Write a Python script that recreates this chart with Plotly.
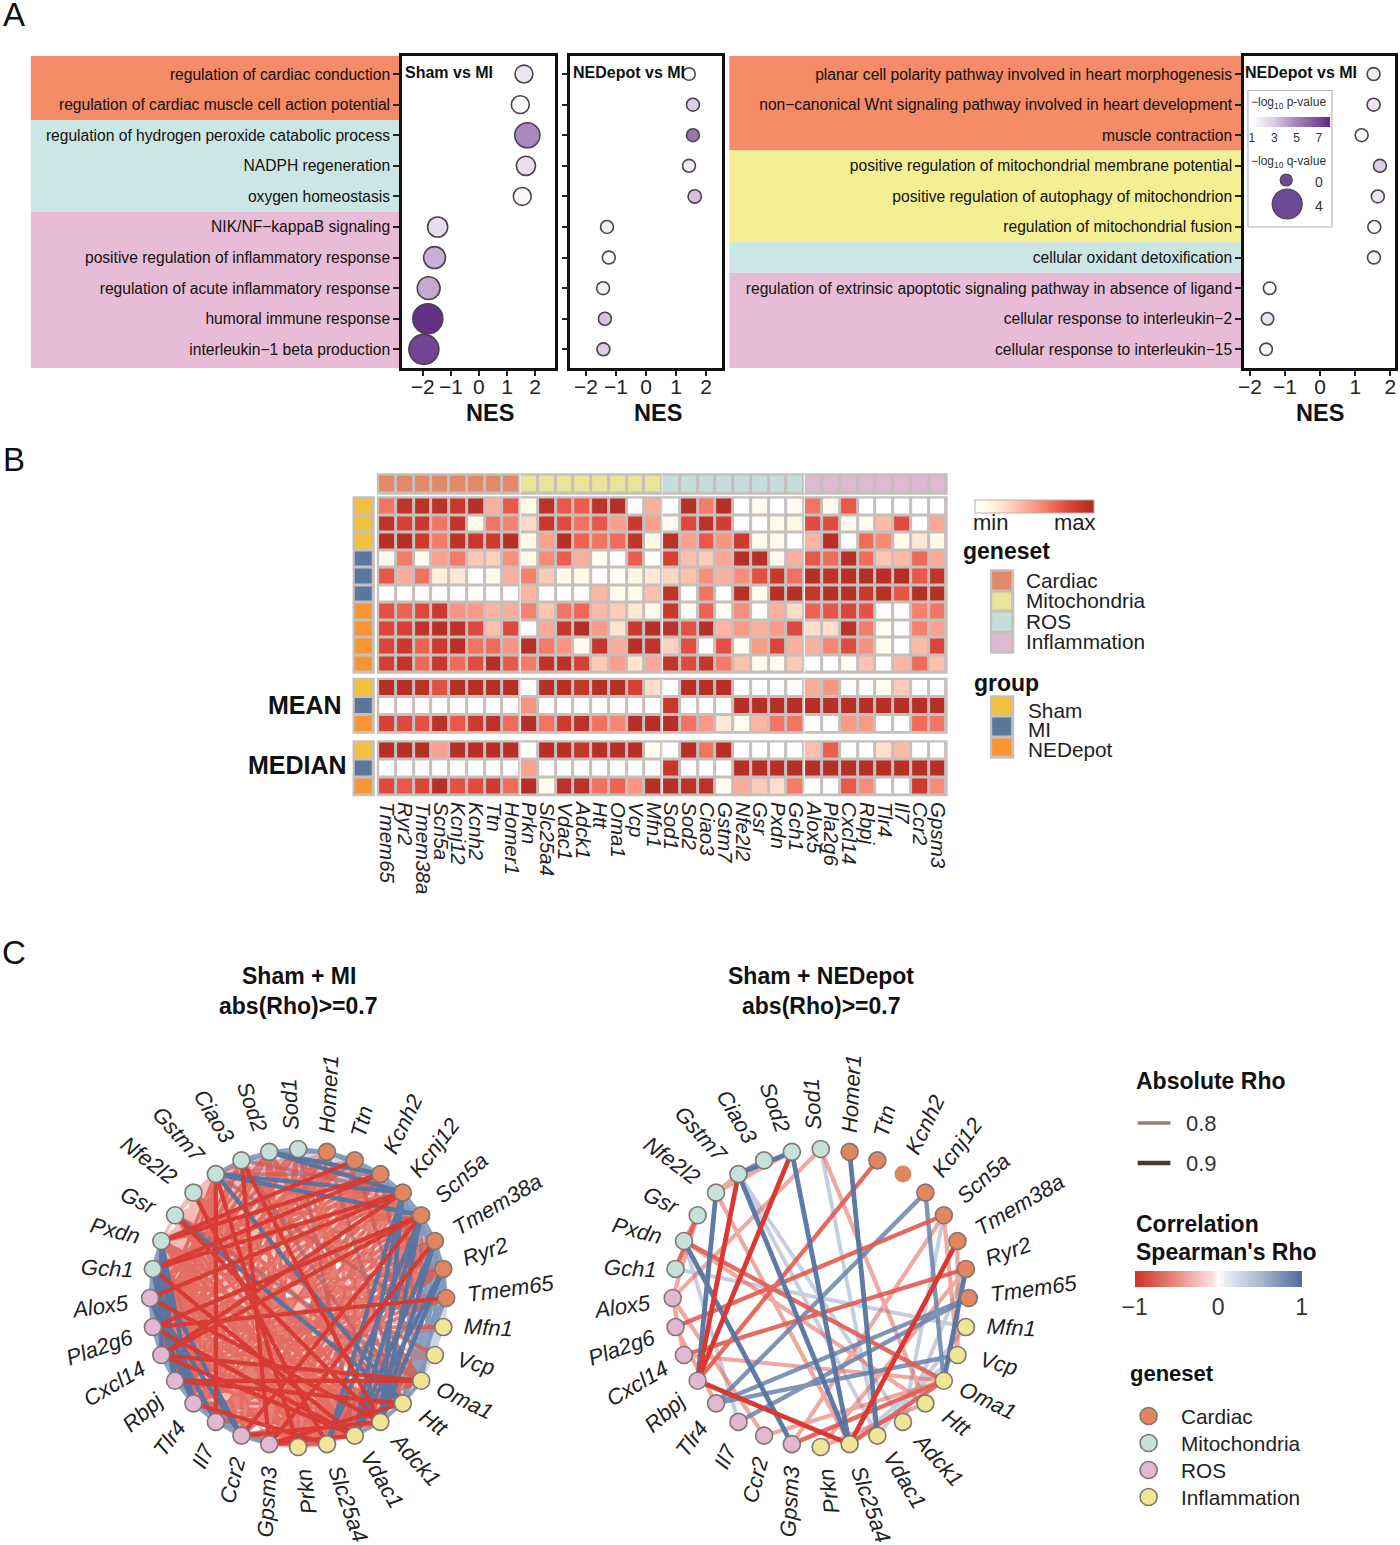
import math
import plotly.graph_objects as go

W, H = 1400, 1545
FONT = "Liberation Sans"

# ---------- Panel A data ----------
labels_a1 = ["regulation of cardiac conduction", "regulation of cardiac muscle cell action potential",
             "regulation of hydrogen peroxide catabolic process", "NADPH regeneration", "oxygen homeostasis",
             "NIK/NF−kappaB signaling", "positive regulation of inflammatory response",
             "regulation of acute inflammatory response", "humoral immune response", "interleukin−1 beta production"]
labels_a3 = ["planar cell polarity pathway involved in heart morphogenesis",
             "non−canonical Wnt signaling pathway involved in heart development", "muscle contraction",
             "positive regulation of mitochondrial membrane potential",
             "positive regulation of autophagy of mitochondrion", "regulation of mitochondrial fusion",
             "cellular oxidant detoxification",
             "regulation of extrinsic apoptotic signaling pathway in absence of ligand",
             "cellular response to interleukin−2", "cellular response to interleukin−15"]
nes_sham = [1.60, 1.47, 1.72, 1.67, 1.54, -1.47, -1.58, -1.79, -1.82, -1.96]
nes_ned1 = [1.43, 1.56, 1.56, 1.43, 1.62, -1.30, -1.24, -1.43, -1.37, -1.42]
nes_ned2 = [1.52, 1.52, 1.18, 1.70, 1.64, 1.54, 1.53, -1.44, -1.50, -1.54]
p_sham = [2.0, 1.1, 4.8, 2.2, 1.3, 2.3, 3.7, 3.9, 7.8, 7.2]
p_ned1 = [1.2, 2.8, 5.5, 1.8, 3.2, 1.6, 1.1, 1.6, 3.2, 2.9]
p_ned2 = [1.7, 1.9, 1.1, 2.8, 2.0, 1.2, 1.2, 1.1, 2.0, 1.4]
q_sham = [1.3, 1.3, 2.9, 1.6, 1.3, 1.8, 2.2, 2.4, 4.0, 4.0]
q_ned1 = [0.1, 0.2, 0.2, 0.2, 0.3, 0.2, 0.2, 0.2, 0.2, 0.2]
q_ned2 = [0.2, 0.2, 0.2, 0.2, 0.2, 0.2, 0.2, 0.1, 0.1, 0.1]
bands_a1 = [(-0.59, 1.5, "#F58B67"), (1.5, 4.5, "#CBE6E4"), (4.5, 9.61, "#E8BCD6")]
bands_a3 = [(-0.59, 2.5, "#F58B67"), (2.5, 5.5, "#F4EF93"), (5.5, 6.5, "#CBE6E4"), (6.5, 9.61, "#E8BCD6")]

# ---------- Panel B data ----------
genes_heat = ["Tmem65", "Ryr2", "Tmem38a", "Scn5a", "Kcnj12", "Kcnh2", "Ttn", "Homer1",
              "Prkn", "Slc25a4", "Vdac1", "Adck1", "Htt", "Oma1", "Vcp", "Mfn1",
              "Sod1", "Sod2", "Ciao3", "Gstm7", "Nfe2l2", "Gsr", "Pxdn", "Gch1",
              "Alox5", "Pla2g6", "Cxcl14", "Rbpj", "Tlr4", "Il7", "Ccr2", "Gpsm3"]
gene_group = [0] * 8 + [1] * 8 + [2] * 8 + [3] * 8
sample_group = [0, 0, 0, 1, 1, 1, 2, 2, 2, 2]
summary_group = [0, 1, 2]
heat_main = [
    [.62, .92, .95, .95, .88, .97, .42, .72, .10, .95, .72, .70, .95, .98, 0, .42, 0, .98, .60, .98, 0, .08, 0, .07, .62, .07, .72, 0, 0, 0, 0, 0],
    [.93, .82, .87, .62, .92, .10, .62, .58, .27, .88, .77, .63, .72, .48, .87, .48, .07, .78, .95, .83, 0, 0, .10, .12, .77, .77, .07, .08, .38, .77, 0, .45],
    [.97, .98, .85, .60, .94, .88, .85, .97, .10, .47, .97, .68, .62, .65, .93, .10, .95, .47, .72, .52, .85, .07, .10, 0, .40, .97, 0, .65, .55, .10, .20, .10],
    [.07, .60, .06, .47, .60, .33, .30, .53, .10, .55, .70, .42, .05, 0, .70, 0, .82, .36, .32, .45, .97, .97, .08, .42, .72, .65, .97, .65, .34, .38, .66, .44],
    [.72, .43, .63, .17, .20, 0, .10, .42, .58, .32, .10, .10, 0, .05, .12, .20, .28, .36, .53, .42, .54, .75, .88, .63, .97, .93, .96, .99, .97, .99, .72, .91],
    [0, 0, 0, 0, 0, .03, 0, .02, .40, 0, 0, 0, .40, .10, .10, .36, .93, 0, .62, 0, .96, .08, .97, .97, .90, .97, .97, .88, .96, .73, .98, .97],
    [.75, .68, .78, .87, .52, .50, .40, .43, .58, .34, .62, .67, .38, .32, .20, .07, .88, .03, .68, .06, .54, .02, .42, .26, .68, .73, .80, .74, 0, 0, .58, .62],
    [.80, .82, .92, .97, .95, .78, .36, .78, 0, .44, .90, .98, .50, .22, .87, .97, .94, .75, .97, .40, .50, .42, .50, .78, .25, .24, .95, .60, .07, 0, .58, .47],
    [.80, .87, .68, .85, .96, .62, .65, .52, .96, .60, .52, .07, .90, .43, .97, .93, .30, .76, 0, .75, .05, .50, .80, .42, .42, .56, .77, .53, .09, 0, .38, .80],
    [.83, .92, .66, .88, .65, .76, .98, .72, .60, .93, .95, .82, .33, .48, .22, .45, .92, .78, .90, .60, .36, .09, .08, .33, 0, 0, .05, .35, 0, .40, .65, .36],
]
heat_mean = [
    [.97, .97, .95, .75, .97, .97, .97, .97, 0, .97, .97, .90, .97, .97, .82, .25, 0, .97, .97, .97, 0, 0, 0, 0, .43, .52, 0, 0, .07, .32, 0, 0],
    [0, 0, 0, 0, 0, 0, 0, 0, .52, 0, 0, 0, 0, 0, 0, 0, .88, 0, 0, 0, .97, .97, .97, .97, .97, .97, .97, .97, .97, .97, .97, .97],
    [.82, .78, .75, .95, .72, .85, .95, .65, .97, .62, .85, .95, .63, .56, .97, .97, .97, .63, .50, .20, .08, .40, .62, .62, 0, 0, .50, .50, 0, 0, .65, .62],
]
heat_median = [
    [.97, .97, .97, .47, .97, .97, .97, .97, 0, .97, .97, .90, .97, .97, .97, .08, 0, .97, .62, .97, 0, 0, 0, 0, .36, .70, 0, 0, .25, .38, 0, 0],
    [0, 0, 0, 0, 0, 0, 0, 0, .47, 0, 0, 0, 0, 0, 0, 0, .90, 0, 0, 0, .97, .97, .97, .97, .97, .97, .97, .97, .97, .97, .97, .97],
    [.78, .72, .80, .97, .75, .77, .85, .65, .97, .08, .95, .95, .63, .68, .52, .97, .97, .95, .95, .06, .43, .32, .25, .60, 0, 0, .72, .55, 0, 0, .85, .55],
]
geneset_names = ["Cardiac", "Mitochondria", "ROS", "Inflammation"]
group_names = ["Sham", "MI", "NEDepot"]
geneset_colors = ["#E08A68", "#EAE39A", "#C4DEDC", "#DDB9D2"]
group_colors = ["#F2C23D", "#5B779F", "#F79533"]
heat_scale = [[0, "#FFFFFF"], [.1, "#FFFBE8"], [.25, "#FFDFCB"], [.4, "#FBB5A2"], [.5, "#F99A87"],
              [.6, "#F37B68"], [.72, "#E9574A"], [.85, "#CF3A2E"], [1, "#B02E25"]]

# ---------- Panel C data ----------
ring_genes = ["Sod1", "Homer1", "Ttn", "Kcnh2", "Kcnj12", "Scn5a", "Tmem38a", "Ryr2", "Tmem65",
              "Mfn1", "Vcp", "Oma1", "Htt", "Adck1", "Vdac1", "Slc25a4", "Prkn",
              "Gpsm3", "Ccr2", "Il7", "Tlr4", "Rbpj", "Cxcl14", "Pla2g6", "Alox5",
              "Gch1", "Pxdn", "Gsr", "Nfe2l2", "Gstm7", "Ciao3", "Sod2"]
ring_set = [1, 0, 0, 0, 0, 0, 0, 0, 0, 3, 3, 3, 3, 3, 3, 3, 3, 2, 2, 2, 2, 2, 2, 2, 2, 1, 1, 1, 1, 1, 1, 1]
net_colors = ["#E08660", "#C6E0DC", "#E0B8D2", "#EFE595"]
net_names = ["Cardiac", "Mitochondria", "ROS", "Inflammation"]

left_pale_blue = [(9, 5), (9, 6), (9, 4), (10, 5), (10, 6), (10, 7), (10, 4), (9, 3), (11, 8), (11, 7), (9, 11), (9, 12),
                  (10, 12), (10, 13), (8, 10), (7, 9), (8, 11), (6, 10), (0, 2), (0, 3), (1, 4), (31, 2), (30, 2), (30, 1),
                  (25, 19), (26, 19), (24, 21), (23, 19), (22, 18), (21, 17), (20, 17), (19, 17), (16, 18), (15, 17), (14, 16),
                  (13, 15), (12, 14), (30, 3), (29, 2), (31, 5), (9, 7), (9, 8), (10, 8), (11, 9), (12, 10), (8, 9)]
left_mid_blue = [(1, 3), (2, 4), (3, 5), (4, 6), (5, 7), (6, 8), (5, 8), (4, 7), (3, 6), (2, 5), (1, 2), (2, 3), (3, 4),
                 (4, 5), (5, 6), (6, 7), (7, 8), (25, 24), (24, 23), (23, 22), (22, 21), (21, 20), (20, 19), (19, 18),
                 (18, 17), (25, 23), (24, 22), (23, 21), (22, 20), (21, 19), (20, 18), (25, 26), (24, 26), (31, 0), (0, 1),
                 (31, 1), (30, 31), (29, 31), (29, 3), (30, 4), (29, 30), (7, 11), (7, 12), (8, 12), (6, 11), (5, 11), (4, 11),
                 (8, 13), (6, 12), (27, 11), (29, 9), (30, 12), (0, 14), (1, 12), (3, 11), (2, 11), (25, 22), (24, 21),
                 (23, 20), (22, 19), (21, 18), (20, 17), (26, 24), (26, 23), (13, 12), (12, 11), (14, 13), (8, 14), (7, 15)]
left_strong_blue = [(4, 15), (5, 14), (5, 15), (6, 14), (4, 14), (6, 13), (7, 13), (5, 13), (7, 14), (4, 13), (31, 3),
                    (31, 4), (29, 4), (29, 5), (29, 12), (25, 20), (25, 21), (24, 19), (24, 20), (26, 21), (26, 20),
                    (25, 18), (24, 18), (26, 22), (27, 12)]
left_pale_red = [(29, 24), (29, 25), (30, 24), (30, 25), (31, 25), (31, 26), (0, 25), (0, 26), (28, 20), (28, 21), (28, 22),
                 (27, 19), (27, 18), (26, 17), (31, 19), (31, 20), (31, 21), (0, 19), (0, 20), (0, 21), (30, 18), (30, 19),
                 (30, 20), (30, 21), (1, 17), (1, 18), (1, 19), (1, 20), (2, 17), (2, 18), (2, 19), (2, 20), (2, 21), (2, 22),
                 (3, 16), (3, 17), (3, 18), (1, 24), (1, 25), (1, 26), (1, 27), (2, 26), (2, 27), (2, 28), (3, 27), (3, 28),
                 (4, 28), (4, 27), (5, 26), (5, 27), (6, 26), (6, 27), (7, 26), (7, 27), (6, 24), (7, 24), (8, 24), (8, 25),
                 (11, 24), (11, 25), (12, 25), (12, 26), (13, 25), (13, 26), (14, 26), (14, 27), (15, 26), (15, 27), (16, 27),
                 (16, 28), (9, 24), (10, 24), (10, 22), (10, 20), (9, 22), (9, 21), (31, 14), (31, 15), (0, 15), (0, 16),
                 (30, 14), (30, 15), (30, 16), (29, 14), (28, 15), (28, 16), (27, 16), (1, 15), (2, 14), (3, 14),
                 (28, 29), (27, 28), (26, 27), (28, 30), (27, 29), (16, 17), (15, 16), (15, 18), (14, 17), (14, 18), (13, 16)]
left_mid_red = [(29, 20), (29, 21), (29, 22), (29, 23), (30, 22), (30, 23), (31, 22), (31, 23), (31, 24), (0, 22), (0, 23), (0, 24),
                (27, 14), (27, 15), (26, 14), (26, 15), (26, 13), (25, 13), (25, 15), (25, 16), (24, 14), (24, 15), (23, 15),
                (23, 13), (23, 12), (22, 13), (22, 12), (21, 13), (21, 15), (20, 12), (20, 13), (20, 14), (19, 11), (19, 13),
                (18, 12), (18, 14), (17, 11), (17, 13), (17, 15), (1, 21), (1, 22), (1, 23), (2, 23), (2, 24), (2, 25), (3, 19),
                (3, 20), (3, 21), (3, 22), (3, 23), (3, 24), (4, 17), (4, 18), (4, 19), (4, 20), (4, 21), (4, 23), (4, 26),
                (5, 17), (5, 19), (5, 20), (5, 21), (5, 23), (5, 25), (6, 18), (6, 19), (6, 20), (6, 21), (6, 22), (6, 23),
                (7, 18), (7, 19), (7, 20), (7, 21), (7, 22), (7, 23), (8, 20), (8, 21), (8, 22), (9, 23), (11, 26), (12, 28), (13, 28),
                (31, 16), (31, 17), (31, 18), (0, 17), (0, 18), (30, 11), (31, 11), (31, 12), (0, 12), (0, 13), (28, 12), (28, 11),
                (27, 10), (2, 16), (1, 16), (16, 5), (16, 6), (15, 3), (15, 2), (26, 11), (28, 14), (16, 26)]
left_strong_red = [(4, 25), (4, 24), (3, 26), (5, 22), (5, 18), (6, 17), (29, 16), (29, 19), (30, 17), (22, 11), (21, 12),
                   (21, 11), (24, 13), (25, 14), (27, 13), (23, 14), (22, 14), (20, 15), (18, 13), (17, 14), (17, 12),
                   (8, 23), (3, 25), (28, 15), (4, 22), (2, 26), (5, 23), (30, 13)]

right_strong_red = [(31, 21), (29, 21), (21, 15), (6, 15)]
right_mid_red = [(2, 21), (5, 23), (11, 17), (11, 15), (26, 11), (7, 22), (27, 25)]
right_light_red = [(22, 11), (26, 12), (0, 24), (28, 29), (28, 31), (28, 15), (0, 12), (5, 17), (5, 10), (6, 10), (7, 16),
                   (27, 24), (24, 18), (18, 11), (12, 16), (23, 20), (27, 26), (24, 22)]
right_strong_blue = [(1, 14), (31, 15), (29, 15), (28, 21), (26, 17), (7, 11), (29, 31)]
right_mid_blue = [(4, 20), (4, 11), (30, 29), (8, 20), (10, 20), (29, 30), (8, 19)]
right_pale_blue = [(0, 14), (29, 14), (25, 9), (5, 13), (9, 14), (7, 13), (10, 15), (26, 19), (29, 13)]
right_no_edge = ["Kcnh2"]

size_legend_q = [0, 4]
rho_legend = [0.8, 0.9]
rho_scale = [[0, "#D32F2A"], [.25, "#E88B84"], [.47, "#FFE3DF"], [.5, "#FFFFFF"], [.53, "#EEF1F6"], [.75, "#A8B8D0"], [1, "#4C6C9C"]]
edge_scale = [[0, "#D5302A"], [.25, "#F08A78"], [.47, "#FFE3DA"], [.5, "#FFFFFF"], [.53, "#EEF1F6"], [.75, "#A8B8D0"], [1, "#4C6C9C"]]

# ---------- helpers ----------
fig = go.Figure()
layout = {}
ann = []
shapes = []
axis_n = [0]


def txt(x, y, text, size=20, bold=False, anchor="left", color="#222222", angle=0):
    ann.append(dict(xref="paper", yref="paper", x=x / W, y=1 - y / H, text=f"<b>{text}</b>" if bold else text,
                    showarrow=False, xanchor=anchor, yanchor="middle", textangle=angle,
                    font=dict(size=size, family=FONT, color=color)))


def new_axes(x0, x1, y0, y1, xkw=None, ykw=None):
    axis_n[0] += 1
    n = axis_n[0]
    sx = "" if n == 1 else str(n)
    xa = dict(domain=[x0 / W, x1 / W], anchor=f"y{sx}", fixedrange=True, showgrid=False, zeroline=False, visible=False)
    ya = dict(domain=[1 - y1 / H, 1 - y0 / H], anchor=f"x{sx}", fixedrange=True, showgrid=False, zeroline=False, visible=False)
    xa.update(xkw or {})
    ya.update(ykw or {})
    layout[f"xaxis{sx}"] = xa
    layout[f"yaxis{sx}"] = ya
    return f"x{sx}", f"y{sx}"


# ---------- Panel A ----------
def dot_panel(x0, x1, xr, nes, p, q, labels, title, title_x, nes_x, bands=None, band_x0=None):
    ykw = dict(visible=True, range=[9.61, -0.59], tickvals=list(range(10)),
               ticks="outside", ticklen=6, tickwidth=2, tickcolor="#222", showline=True, linecolor="#111",
               linewidth=2.5, mirror=True)
    if labels:
        ykw.update(ticktext=labels, tickfont=dict(size=15.6, family=FONT, color="#111"))
    else:
        ykw.update(showticklabels=False)
    xa, ya = new_axes(x0, x1, 56, 368,
                      dict(visible=True, range=xr, tickvals=[-2, -1, 0, 1, 2], ticktext=["−2", "−1", "0", "1", "2"],
                           ticks="outside", ticklen=5, tickwidth=2, tickcolor="#222", showline=True, linecolor="#111",
                           linewidth=2.5, mirror=True, ticklabelstandoff=-7, tickfont=dict(size=21, family=FONT, color="#222")),
                      ykw)
    if bands:
        for b0, b1, c in bands:
            shapes.append(dict(type="rect", xref="paper", yref=ya, x0=band_x0 / W, x1=x0 / W, y0=b0, y1=b1,
                               fillcolor=c, line=dict(width=0), layer="below"))
    fig.add_trace(go.Scatter(x=nes, y=list(range(10)), xaxis=xa, yaxis=ya, mode="markers", showlegend=False,
                             marker=dict(size=[12 + 4.5 * v for v in q], color=p, coloraxis="coloraxis2",
                                         line=dict(color="#4A4348", width=1.6), opacity=1)))
    txt(title_x, 72, title, size=16, bold=True, color="#111")
    txt(nes_x, 413, "NES", size=23.5, bold=True, anchor="center", color="#111")


dot_panel(398.5, 553, [-2.74, 2.72], nes_sham, p_sham, q_sham, labels_a1, "Sham vs MI", 399.5, 487, bands_a1, 25)
dot_panel(568, 721, [-2.52, 2.54], nes_ned1, p_ned1, q_ned1, None, "NEDepot vs MI", 569, 656)
dot_panel(1246, 1398, [-2.17, 2.13], nes_ned2, p_ned2, q_ned2, labels_a3, "NEDepot vs MI", 1245.5, 1323, bands_a3, 728)

layout["coloraxis2"] = dict(cmin=1, cmax=8,
                            colorscale=[[0, "#FFFFFF"], [.28, "#DCCBE4"], [.57, "#A582BA"], [.86, "#784A98"], [1, "#5E2A7E"]],
                            colorbar=dict(orientation="h", thickness=10, lenmode="pixels", len=78, x=1254 / W, xanchor="left",
                                          y=1 - 117 / H, yanchor="top", xpad=0, ypad=0, outlinewidth=0, ticklen=0,
                                          tickvals=[1, 3, 5, 7], tickfont=dict(size=12, family=FONT, color="#333")))


# ---------- Panel B ----------
def gap_bg(xa, ya):
    shapes.append(dict(type="rect", xref=f"{xa} domain", yref=f"{ya} domain", x0=0, x1=1, y0=0, y1=1,
                       fillcolor="#C6BFBC", line=dict(color="#C6BFBC", width=2.5), layer="below"))


def seps(xa, ya):
    for s in (7.5, 15.5, 23.5):
        shapes.append(dict(type="line", xref=xa, yref=f"{ya} domain", x0=s, x1=s, y0=0, y1=1,
                           line=dict(color="#F4F2F1", width=1.2), layer="above"))


def discrete_scale(colors):
    return [[i / (len(colors) - 1), c] for i, c in enumerate(colors)]


HEAT_L, HEAT_R = 374.5, 946.5


def value_heat(z, y0, y1, xkw=None):
    xa, ya = new_axes(HEAT_L, HEAT_R, y0, y1, xkw or dict(range=[-0.5, 31.5]), dict(range=[len(z) - .5, -.5]))
    gap_bg(xa, ya)
    fig.add_trace(go.Heatmap(z=z, xaxis=xa, yaxis=ya, coloraxis="coloraxis", xgap=3, ygap=3, hoverinfo="skip"))
    seps(xa, ya)


def side_heat(groups, x0, x1, y0, y1, colors, vertical=True):
    z = [[g] for g in groups] if vertical else [groups]
    rows = len(z)
    cols = len(z[0])
    xa, ya = new_axes(x0, x1, y0, y1, dict(range=[-.5, cols - .5]), dict(range=[rows - .5, -.5]))
    gap_bg(xa, ya)
    fig.add_trace(go.Heatmap(z=z, xaxis=xa, yaxis=ya, colorscale=discrete_scale(colors), zmin=0, zmax=len(colors) - 1,
                             showscale=False, xgap=3, ygap=3, hoverinfo="skip"))
    return xa, ya


xa_top, ya_top = side_heat(gene_group, HEAT_L, HEAT_R, 474.5, 493.5, geneset_colors, vertical=False)
seps(xa_top, ya_top)
side_heat(sample_group, 350, 370, 497.5, 672.5, group_colors)
value_heat(heat_main, 497.5, 672.5)
side_heat(summary_group, 350, 370, 679, 732.5, group_colors)
value_heat(heat_mean, 679, 732.5)
side_heat(summary_group, 350, 370, 741.5, 795, group_colors)
value_heat(heat_median, 741.5, 795,
           dict(visible=True, range=[-0.5, 31.5], tickvals=list(range(32)), ticktext=genes_heat, tickangle=90,
                ticks="outside", ticklen=2, tickcolor="rgba(0,0,0,0)", showline=False,
                tickfont=dict(size=20.5, family=FONT, style="italic", color="#222")))

side_heat([0, 1, 2, 3], 991.5, 1013.5, 570.5, 652.5, geneset_colors)
side_heat([0, 1, 2], 991.5, 1013.5, 696.5, 757.5, group_colors)
layout["coloraxis"] = dict(cmin=0, cmax=1, colorscale=heat_scale,
                           colorbar=dict(orientation="h", thickness=13, lenmode="pixels", len=119, x=975 / W, xanchor="left",
                                         y=1 - 500 / H, yanchor="top", xpad=0, ypad=0, outlinecolor="#B8B0AC", outlinewidth=1,
                                         ticklen=0, showticklabels=False))
txt(991, 522, "min", size=22, anchor="center")
txt(1076, 522, "max", size=22, anchor="center")
txt(261.5, 705, "MEAN", size=25, bold=True, color="#111")
txt(242, 765, "MEDIAN", size=25, bold=True, color="#111")
txt(961, 551, "geneset", size=23, bold=True, color="#111")
txt(972, 683, "group", size=23, bold=True, color="#111")
for name, yy in zip(geneset_names, [580, 601, 621, 642]):
    txt(1025, yy, name, size=20.8)
for name, yy in zip(group_names, [710, 730, 749]):
    txt(1027, yy, name, size=20.8)

# ---------- Panel C ----------
xpage, ypage = new_axes(0, W, 0, H, dict(range=[0, W]), dict(range=[H, 0]))
RADIUS = 149


def ring_xy(cx, cy, i, r=RADIUS):
    th = math.radians(i * 360 / 32)
    return cx + r * math.sin(th), cy - r * math.cos(th)


def rho_color(rho):
    t = (rho + 1) / 2
    for (a, ca), (b, cb) in zip(edge_scale[:-1], edge_scale[1:]):
        if a <= t <= b:
            f = (t - a) / (b - a)
            rgb = [round(int(ca[k:k + 2], 16) * (1 - f) + int(cb[k:k + 2], 16) * f) for k in (1, 3, 5)]
            return f"rgb({rgb[0]},{rgb[1]},{rgb[2]})"


def edges(cx, cy, pairs, rho, width, opacity):
    xs, ys = [], []
    for a, b in pairs:
        xa_, ya_ = ring_xy(cx, cy, a)
        xb_, yb_ = ring_xy(cx, cy, b)
        xs += [xa_, xb_, None]
        ys += [ya_, yb_, None]
    fig.add_trace(go.Scatter(x=xs, y=ys, xaxis=xpage, yaxis=ypage, mode="lines", showlegend=False, opacity=opacity,
                             line=dict(color=rho_color(rho), width=width), hoverinfo="skip"))


def char_w(c):
    if c in "ilt1fjrI":
        return .31
    if c in "mM":
        return .83
    return .56


def ring(cx, cy, no_edge=()):
    pts = [ring_xy(cx, cy, i) for i in range(32)]
    fig.add_trace(go.Scatter(x=[p[0] for p in pts], y=[p[1] for p in pts], xaxis=xpage, yaxis=ypage, mode="markers",
                             showlegend=False, hoverinfo="skip",
                             marker=dict(size=17, color=[net_colors[s] for s in ring_set],
                                         line=dict(width=1.6, color=["rgba(0,0,0,0)" if g in no_edge else "#7F7672" for g in ring_genes]))))
    for i, g in enumerate(ring_genes):
        theta = i * 360 / 32
        w = sum(char_w(c) for c in g) * 22
        r = 172 + w / 2
        th = math.radians(theta - 2.5)
        lx, ly = cx + r * math.sin(th), cy - r * math.cos(th)
        base = theta - 90 if theta < 180 else theta - 270
        if i == 0:
            base = -90 + 5
        txt(lx, ly, f"<i>{g}</i>", size=22, anchor="center", angle=base - 8)


CL, CR, CY = 294, 820, 1298
edges(CL, CY, left_pale_blue, 0.72, 3.4, 0.38)
edges(CL, CY, left_mid_blue, 0.8, 3.9, 0.8)
edges(CL, CY, left_pale_red, -0.72, 3.6, 0.42)
edges(CL, CY, left_mid_red, -0.8, 3.8, 0.75)
edges(CL, CY, left_strong_blue, 0.95, 4.4, 0.95)
edges(CL, CY, left_strong_red, -0.95, 4.2, 0.95)
ring(CL, CY)

edges(CR, CY, right_pale_blue, 0.72, 4.0, 0.45)
edges(CR, CY, right_light_red, -0.72, 4.2, 0.55)
edges(CR, CY, right_mid_blue, 0.85, 4.4, 0.85)
edges(CR, CY, right_mid_red, -0.76, 4.4, 0.9)
edges(CR, CY, right_strong_blue, 0.95, 4.8, 0.95)
edges(CR, CY, right_strong_red, -0.95, 4.8, 1)
ring(CR, CY, right_no_edge)

for cx, lines in ((294.5, ("Sham + MI", "abs(Rho)>=0.7")), (820.5, ("Sham + NEDepot", "abs(Rho)>=0.7"))):
    txt(cx, 976, lines[0], size=23, bold=True, anchor="center", color="#111")
    txt(cx, 1006, lines[1], size=23, bold=True, anchor="center", color="#111")

# legend: p-value box and q-value sizes
shapes.append(dict(type="rect", xref=xpage, yref=ypage, x0=1250, x1=1334.5, y0=90.5, y1=227,
                   line=dict(color="#B8B8B8", width=1.2), fillcolor="rgba(0,0,0,0)", layer="above"))
txt(1251, 103, "−log<sub>10</sub> p-value", size=12, color="#333")
txt(1251, 162, "−log<sub>10</sub> q-value", size=12, color="#333")
fig.add_trace(go.Scatter(x=[1288.5, 1289.5], y=[180, 204], xaxis=xpage, yaxis=ypage, mode="markers", showlegend=False,
                         hoverinfo="skip",
                         marker=dict(size=[12 + 4.5 * v for v in size_legend_q], color="#6A4A94", opacity=1,
                                     line=dict(color="#4A4348", width=1.2))))
for v, yy in zip(size_legend_q, [182, 206]):
    txt(1321, yy, str(v), size=14, anchor="center", color="#333")

# legend: absolute rho
txt(1135, 1081, "Absolute Rho", size=23, bold=True, color="#111")
for v, yy, c, lw in zip(rho_legend, [1123, 1163], ["#8F837C", "#46392F"], [3.4, 4.4]):
    fig.add_trace(go.Scatter(x=[1139, 1172], y=[yy, yy], xaxis=xpage, yaxis=ypage, mode="lines", showlegend=False,
                             hoverinfo="skip", line=dict(color=c, width=lw)))
    txt(1186, yy, str(v), size=22, color="#333")
txt(1135, 1224, "Correlation", size=23, bold=True, color="#111")
txt(1135, 1252, "Spearman's Rho", size=23, bold=True, color="#111")
fig.add_trace(go.Scatter(x=[0, 0], y=[0, 0], xaxis=xpage, yaxis=ypage, mode="markers", showlegend=False, hoverinfo="skip",
                         marker=dict(size=0.1, opacity=0, color=[-1, 1], coloraxis="coloraxis3")))
layout["coloraxis3"] = dict(cmin=-1, cmax=1, colorscale=rho_scale,
                            colorbar=dict(orientation="h", thickness=16, lenmode="pixels", len=167, x=1136 / W, xanchor="left",
                                          y=1 - 1271 / H, yanchor="top", xpad=0, ypad=0, outlinewidth=0, ticklen=0,
                                          tickvals=[-1, 0, 1], ticktext=["−1", "0", "1"],
                                          tickfont=dict(size=23, family=FONT, color="#333")))

# legend: network geneset
txt(1129, 1373, "geneset", size=22, bold=True, color="#111")
leg_y = [1416, 1443, 1470, 1497]
fig.add_trace(go.Scatter(x=[1150] * 4, y=leg_y, xaxis=xpage, yaxis=ypage, mode="markers", showlegend=False, hoverinfo="skip",
                         marker=dict(size=17, color=net_colors, line=dict(width=1.6, color="#7F7672"))))
for name, yy in zip(net_names, leg_y):
    txt(1181, yy, name, size=20.8)

txt(8, 15, "A", size=33, anchor="center", color="#111")
txt(8, 459, "B", size=33, anchor="center", color="#111")
txt(8, 952, "C", size=33, anchor="center", color="#111")

layout.update(width=W, height=H, margin=dict(l=0, r=0, t=0, b=0, pad=0), autosize=False, showlegend=False,
              paper_bgcolor="white", plot_bgcolor="rgba(0,0,0,0)", font=dict(family=FONT),
              annotations=ann, shapes=shapes)
fig.update_layout(**layout)
fig.write_html("out.html", config=dict(displayModeBar=False), post_script="document.body.style.margin='0';")
